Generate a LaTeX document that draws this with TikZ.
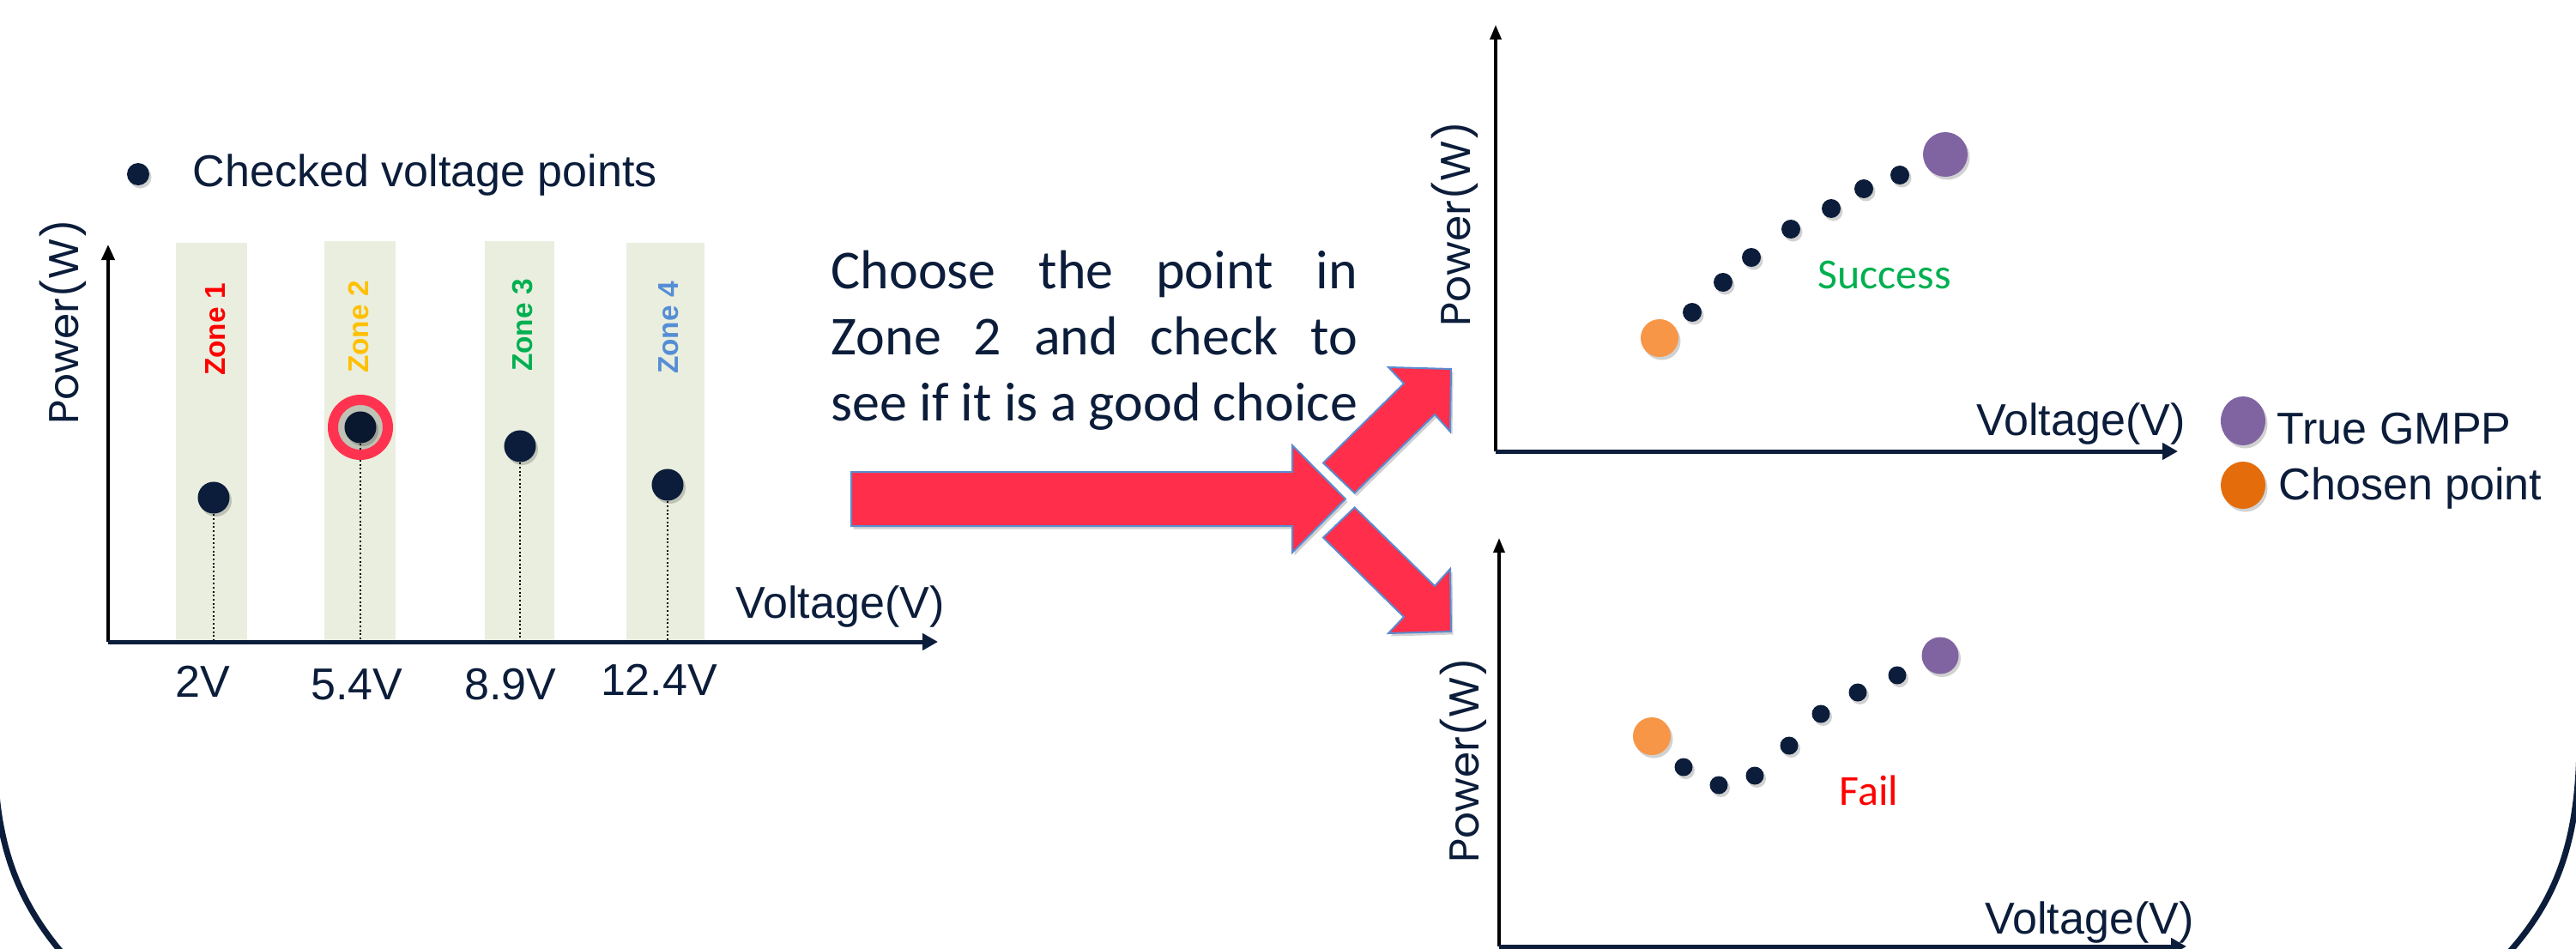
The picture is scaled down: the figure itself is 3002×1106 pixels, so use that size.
\documentclass[tikz,border=0pt]{standalone}
\usepackage{fontspec}
\setmainfont{Liberation Sans}
\newfontfamily\calib{Carlito}
\newfontfamily\geo{Poppins}
\usetikzlibrary{arrows.meta,shadows}

\definecolor{navy}{HTML}{0B1D3A}
\definecolor{bandc}{HTML}{EAEEDF}
\definecolor{ringc}{HTML}{FF3350}
\definecolor{arrred}{HTML}{FF2E4A}
\definecolor{arrline}{HTML}{5B8BD0}
\definecolor{gmpp}{HTML}{8064A2}
\definecolor{chosen}{HTML}{F79646}
\definecolor{chosenleg}{HTML}{E46C0A}
\definecolor{zoneA}{HTML}{FF0000}
\definecolor{zoneB}{HTML}{FFC000}
\definecolor{zoneC}{HTML}{00B050}
\definecolor{zoneD}{HTML}{558ED5}

\begin{document}
\begin{tikzpicture}[x=0.01cm, y=-0.01cm,
  shadowed/.style={drop shadow={shadow xshift=0.025cm, shadow yshift=-0.035cm, fill=black, opacity=0.18}},
  band/.style={fill=bandc, draw=none},
  axisy/.style={black, line width=0.04cm, -{Triangle[width=0.15cm,length=0.18cm]}},
  axisx/.style={navy, line width=0.05cm, -{Triangle[width=0.19cm,length=0.18cm]}},
  cdot/.style={circle, fill=navy, inner sep=0pt, minimum size=0.37cm, shadowed},
  sdot/.style={circle, fill=navy, inner sep=0pt, minimum size=0.22cm, shadowed},
  dotline/.style={black, line width=0.022cm, dash pattern=on 0.02cm off 0.027cm},
  lab/.style={text=navy, inner sep=0pt, font=\fontsize{14.8}{17}\selectfont},
  powlab/.style={text=navy, inner sep=0pt, rotate=90, font=\geo\fontsize{13.8}{16}\selectfont},
  zonelab/.style={inner sep=0pt, rotate=90, font=\bfseries\fontsize{9.5}{11}\selectfont},
  mtext/.style={text=navy, inner sep=0pt, anchor=base west, font=\calib\fontsize{18.2}{21.9}\selectfont},
  verdict/.style={inner sep=0pt, anchor=base, font=\calib\fontsize{14.2}{17}\selectfont},
  bigarrow/.style={fill=arrred, draw=arrline, line width=0.02cm, shadowed}]

\useasboundingbox (0,0) rectangle (3002,1106);
\fill[white] (0,0) rectangle (3002,1106);

% outer frame, only its lower corners show
\draw[navy, line width=0.07cm] (-6,880) .. controls (-6,990) and (25,1060) .. (85,1125);
\draw[navy, line width=0.07cm] (3006,860) .. controls (3006,990) and (2975,1060) .. (2905,1130);

% ---------------- left chart ----------------
\fill[navy, shadowed] (161,203) circle[radius=13];
\node[lab, anchor=base west] (leg) at (224,217) {Checked voltage points};

\fill[band] (205,283) rectangle (288,748);
\fill[band] (378,281) rectangle (461,748);
\fill[band] (565,281) rectangle (646,748);
\fill[band] (730,283) rectangle (821,748);

\node[zonelab, text=zoneA] (z1) at (251,384) {Zone 1};
\node[zonelab, text=zoneB] (z2) at (418,381) {Zone 2};
\node[zonelab, text=zoneC] (z3) at (609,379) {Zone 3};
\node[zonelab, text=zoneD] (z4) at (779,382) {Zone 4};

\coordinate (lo) at (126,748);
\coordinate (ly) at (126,285);
\coordinate (lx) at (1093,748);
\coordinate (t1) at (249,748);
\coordinate (t2) at (420,748);
\coordinate (t3) at (606,748);
\coordinate (t4) at (778,748);

\node[cdot] (p1) at (249,580) {};
\node[cdot] (p2) at (420,498) {};
\node[cdot] (p3) at (606,520) {};
\node[cdot] (p4) at (778,565) {};

\draw[dotline] (p1.south) -- (t1);
\draw[dotline] (p2.south) -- (t2);
\draw[dotline] (p3.south) -- (t3);
\draw[dotline] (p4.south) -- (t4);

\draw[ringc, line width=0.12cm, shadowed] (p2) circle[radius=32];

\draw[axisy] (lo) -- (ly);
\draw[axisx] (lo) -- (lx);

\node[powlab] (lpow) at (73,375) {Power(W)};
\node[lab, anchor=base] (lvolt) at (979,720) {Voltage(V)};
\node[lab, anchor=base] (v1) at (236,812) {2V};
\node[lab, anchor=base] (v2) at (416,815) {5.4V};
\node[lab, anchor=base] (v3) at (595,815) {8.9V};
\node[lab, anchor=base] (v4) at (768,810) {12.4V};

% ---------------- explanation and arrows ----------------
\node[mtext] (m1) at (968,336) {\makebox[6.13cm][s]{Choose the point in}};
\node[mtext] (m2) at (968,413) {\makebox[6.13cm][s]{Zone 2 and check to}};
\node[mtext] (m3) at (968,490) {\makebox[6.13cm][s]{see if it is a good choice}};

\filldraw[bigarrow] (992,550) -- (1506,550) -- (1506,519) -- (1568,581.5)
  -- (1506,644) -- (1506,613) -- (992,613) -- cycle;
\filldraw[bigarrow] (1542,539.5) -- (1636,447) -- (1618,428) -- (1691,430)
  -- (1690,503) -- (1672,483) -- (1578.6,574.6) -- cycle;
\filldraw[bigarrow] (1542,626.5) -- (1636,719) -- (1618,738) -- (1691,736)
  -- (1690,663) -- (1672,683) -- (1578.6,591.4) -- cycle;

% ---------------- upper right chart: success ----------------
\coordinate (uo) at (1743,526);
\coordinate (uy) at (1743,29);
\coordinate (ux) at (2538,526);
\draw[black, line width=0.035cm, -{Triangle[width=0.13cm,length=0.17cm]}] (uo) -- (uy);
\draw[axisx] (uo) -- (ux);
\node[powlab] (upow) at (1695,261) {Power(W)};
\node[lab, anchor=base] (uvolt) at (2425,507) {Voltage(V)};

\fill[chosen, shadowed] (1934,394) circle[radius=22];
\foreach \px/\py in {1972/364, 2008/329, 2041/300, 2087/267, 2134/243, 2172/220, 2214/204}
  \fill[navy, shadowed] (\px,\py) circle[radius=11];
\fill[gmpp, shadowed] (2267,180) circle[radius=26];
\node[verdict, text=zoneC] (succ) at (2196,336) {Success};

% legend
\fill[gmpp, shadowed] (2614,490.5) ellipse[x radius=26, y radius=28.5];
\fill[chosenleg, shadowed] (2614,565.5) ellipse[x radius=26, y radius=27.5];
\node[lab, anchor=base west] (lg1) at (2653,517) {True GMPP};
\node[lab, anchor=base west] (lg2) at (2655,582) {Chosen point};

% ---------------- lower right chart: failure ----------------
\coordinate (bo) at (1747,1103);
\coordinate (by) at (1747,627);
\coordinate (bx) at (2548,1103);
\draw[black, line width=0.035cm, -{Triangle[width=0.13cm,length=0.17cm]}] (bo) -- (by);
\draw[axisx] (bo) -- (bx);
\node[powlab] (bpow) at (1705,886) {Power(W)};
\node[lab, anchor=base] (bvolt) at (2435,1088) {Voltage(V)};

\fill[chosen, shadowed] (1925,858) circle[radius=22];
\foreach \px/\py in {1962/894, 2003/915, 2045/904, 2085/869, 2122/832, 2165/807, 2211/787}
  \fill[navy, shadowed] (\px,\py) circle[radius=10.5];
\fill[gmpp, shadowed] (2261,764) circle[radius=21.5];
\node[verdict, text=zoneA] (fail) at (2178,938) {Fail};

\end{tikzpicture}
\end{document}
